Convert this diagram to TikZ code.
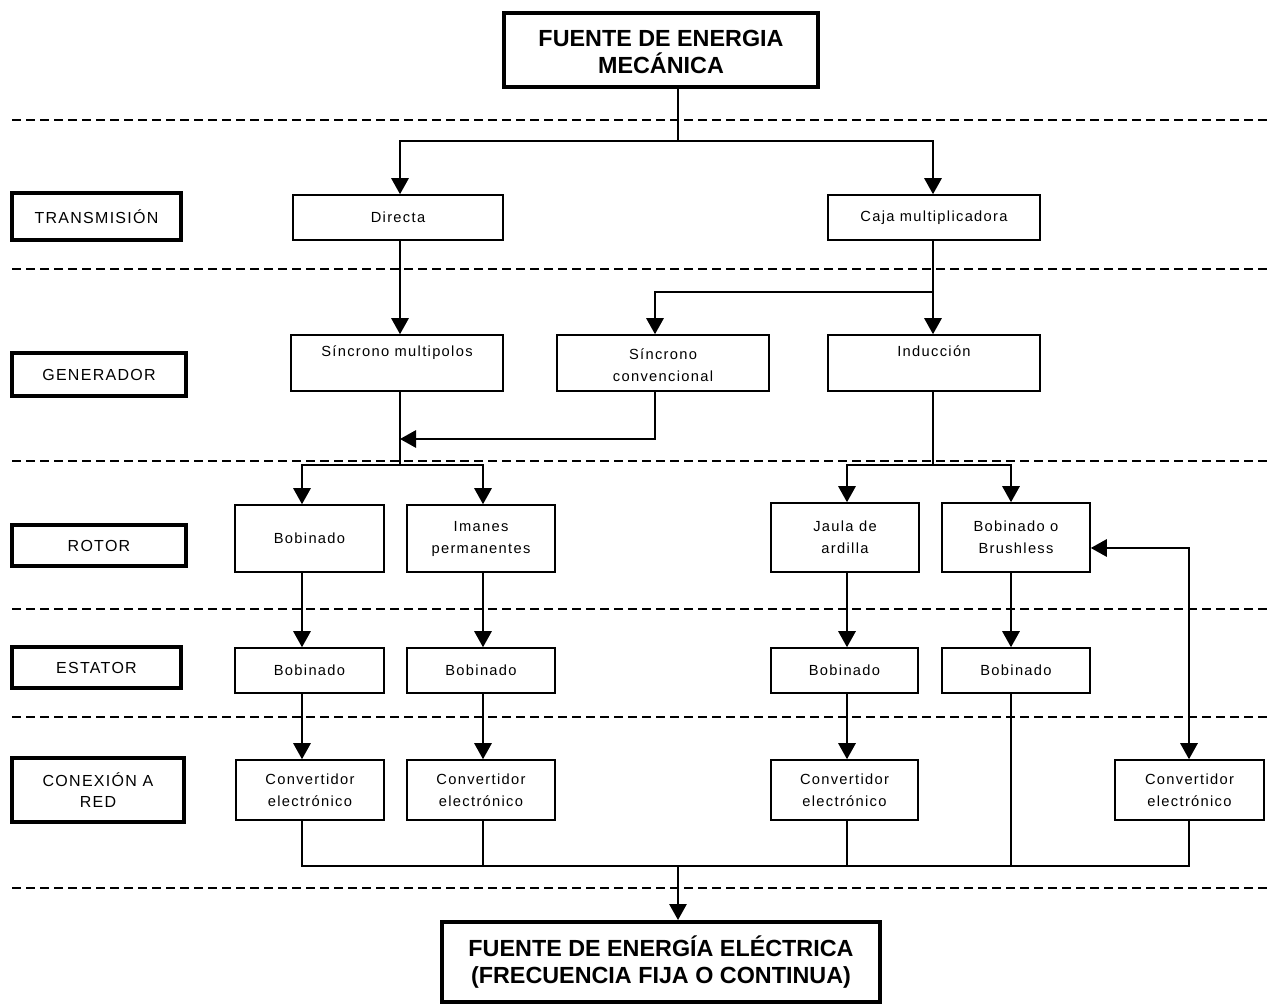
\documentclass[tikz,border=0pt]{standalone}
\usepackage{fontspec}
\setmainfont{Liberation Sans}
\newfontfamily\bodyfont[LetterSpace=9]{Liberation Sans}
\newfontfamily\tagfont[LetterSpace=8]{Liberation Sans}
\usetikzlibrary{arrows.meta}
\begin{document}
\begin{tikzpicture}[x=0.75pt,y=-0.75pt,
  line join=miter,
  box/.style={draw,line width=1.2pt,inner sep=0pt,align=center,
    font=\bodyfont\fontsize{11}{16.5}\selectfont},
  tagbox/.style={draw,line width=2.6pt,inner sep=0pt,align=center,
    font=\tagfont\fontsize{12}{16}\selectfont},
  mainbox/.style={draw,line width=3pt,inner sep=0pt,align=center,
    font=\bfseries\fontsize{17.5}{20}\selectfont},
  link/.style={line width=1.4pt},
  tip/.tip={Triangle[width=13pt,length=12pt]},
  arr/.style={link,-tip},
  arrboth/.style={link,tip-tip},
  sep/.style={line width=1.3pt,dash pattern=on 6.75pt off 3.75pt}]
\useasboundingbox (0,0) rectangle (1272,1005);

% level separators
\foreach \yy in {120,269,461,609,717,888}
  \draw[sep] (12,\yy) -- (1272,\yy);

% end points
\node[mainbox,minimum width=314*0.75pt,minimum height=74*0.75pt] (top) at (661,50)
  {\rule{0pt}{15pt}FUENTE DE ENERGIA\\MECÁNICA};
\node[mainbox,minimum width=438*0.75pt,minimum height=80*0.75pt] (bottom) at (661,962)
  {FUENTE DE ENERGÍA ELÉCTRICA\\(FRECUENCIA FIJA O CONTINUA)};

% level tags
\node[tagbox,minimum width=169*0.75pt,minimum height=47*0.75pt] (tTrans) at (96.5,216.5) {TRANSMISIÓN};
\node[tagbox,minimum width=174*0.75pt,minimum height=43*0.75pt] (tGen) at (99,374.5) {GENERADOR};
\node[tagbox,minimum width=174*0.75pt,minimum height=41*0.75pt] (tRot) at (99,545.5) {ROTOR};
\node[tagbox,minimum width=169*0.75pt,minimum height=41*0.75pt] (tEst) at (96.5,667.5) {ESTATOR};
\node[tagbox,minimum width=172*0.75pt,minimum height=64*0.75pt] (tCon) at (98,790) {CONEXIÓN A\\RED};

% transmission
\node[box,minimum width=210*0.75pt,minimum height=45*0.75pt] (directa) at (398,217.5) {Directa};
\node[box,minimum width=212*0.75pt,minimum height=45*0.75pt] (caja) at (934,217.5) {Caja multiplicadora};

% generator
\node[box,minimum width=212*0.75pt,minimum height=56*0.75pt] (multi) at (397,363) {\rule{0pt}{11pt}Síncrono multipolos\\\strut};
\node[box,minimum width=212*0.75pt,minimum height=56*0.75pt] (conv) at (663,363) {\rule{0pt}{11pt}Síncrono\\convencional};
\node[box,minimum width=212*0.75pt,minimum height=56*0.75pt] (ind) at (934,363) {\rule{0pt}{11pt}Inducción\\\strut};

% rotor
\node[box,minimum width=149*0.75pt,minimum height=67*0.75pt] (r1) at (309.5,538.5) {Bobinado};
\node[box,minimum width=148*0.75pt,minimum height=67*0.75pt] (r2) at (481,538.5) {Imanes\\permanentes};
\node[box,minimum width=148*0.75pt,minimum height=69*0.75pt] (r3) at (845,537.5) {Jaula de\\ardilla};
\node[box,minimum width=148*0.75pt,minimum height=69*0.75pt] (r4) at (1016,537.5) {Bobinado o\\Brushless};

% stator
\node[box,minimum width=149*0.75pt,minimum height=45*0.75pt] (s1) at (309.5,670.5) {Bobinado};
\node[box,minimum width=148*0.75pt,minimum height=45*0.75pt] (s2) at (481,670.5) {Bobinado};
\node[box,minimum width=147*0.75pt,minimum height=45*0.75pt] (s3) at (844.5,670.5) {Bobinado};
\node[box,minimum width=148*0.75pt,minimum height=45*0.75pt] (s4) at (1016,670.5) {Bobinado};

% grid connection
\node[box,minimum width=148*0.75pt,minimum height=60*0.75pt] (c1) at (310,790) {Convertidor\\electrónico};
\node[box,minimum width=148*0.75pt,minimum height=60*0.75pt] (c2) at (481,790) {Convertidor\\electrónico};
\node[box,minimum width=147*0.75pt,minimum height=60*0.75pt] (c3) at (844.5,790) {Convertidor\\electrónico};
\node[box,minimum width=149*0.75pt,minimum height=60*0.75pt] (c4) at (1189.5,790) {Convertidor\\electrónico};

% connector columns and junctions
\coordinate (xD) at (400,0);
\coordinate (xC) at (933,0);
\coordinate (xS) at (655,0);
\coordinate (xA) at (302,0);
\coordinate (xB) at (483,0);
\coordinate (xE) at (847,0);
\coordinate (xF) at (1011,0);
\coordinate (j0) at (678,141);
\coordinate (j1) at (933,292);
\coordinate (j2) at (400,439);
\coordinate (j3) at (400,465);
\coordinate (j4) at (933,465);
\coordinate (j5) at (1189,548);
\coordinate (bus) at (678,866);

% mechanical source to transmission
\draw[link] (top.south -| j0) -- (j0);
\draw[arr] (j0) -| (directa.north -| xD);
\draw[arr] (j0) -| (caja.north -| xC);

% transmission to generator
\draw[arr] (directa.south -| xD) -- (multi.north -| xD);
\draw[arr] (caja.south -| xC) -- (ind.north -| xC);
\draw[arr] (j1) -| (conv.north -| xS);
\draw[arr] (conv.south -| xS) |- (j2);

% generator to rotor
\draw[link] (multi.south -| xD) -- (j3);
\draw[arr] (j3) -| (r1.north -| xA);
\draw[arr] (j3) -| (r2.north -| xB);
\draw[link] (ind.south -| xC) -- (j4);
\draw[arr] (j4) -| (r3.north -| xE);
\draw[arr] (j4) -| (r4.north -| xF);

% rotor to stator
\draw[arr] (r1.south -| xA) -- (s1.north -| xA);
\draw[arr] (r2.south -| xB) -- (s2.north -| xB);
\draw[arr] (r3.south -| xE) -- (s3.north -| xE);
\draw[arr] (r4.south -| xF) -- (s4.north -| xF);

% stator to grid connection
\draw[arr] (s1.south -| xA) -- (c1.north -| xA);
\draw[arr] (s2.south -| xB) -- (c2.north -| xB);
\draw[arr] (s3.south -| xE) -- (c3.north -| xE);
\draw[arrboth] (r4.east |- j5) -| (c4.north -| j5);

% collecting bus to the electrical source
\draw[link] (c1.south -| xA) |- (bus -| j5) -- (c4.south -| j5);
\draw[link] (c2.south -| xB) -- (bus -| xB);
\draw[link] (c3.south -| xE) -- (bus -| xE);
\draw[link] (s4.south -| xF) -- (bus -| xF);
\draw[arr] (bus) -- (bottom.north -| bus);
\end{tikzpicture}
\end{document}
